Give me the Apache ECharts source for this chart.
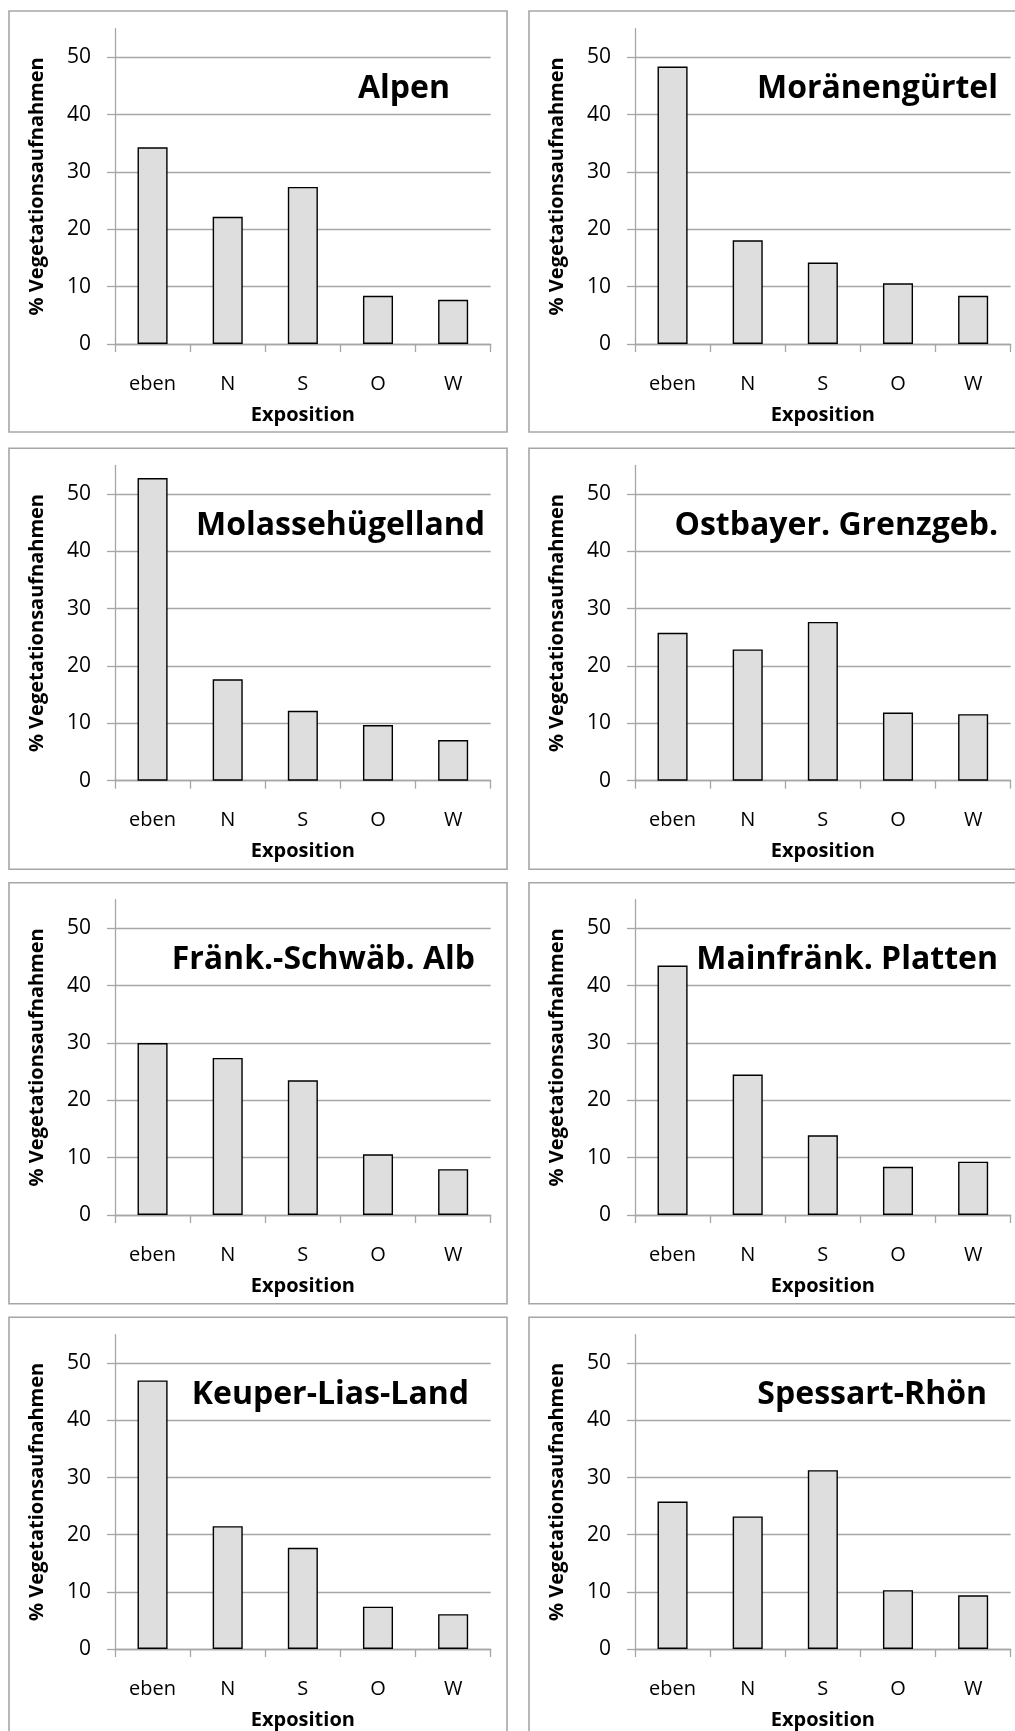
<!DOCTYPE html>
<html>
<head>
<meta charset="utf-8">
<script src="https://cdn.jsdelivr.net/npm/echarts@6/dist/echarts.min.js"></script>
<style>
html,body{margin:0;padding:0;background:#fff;}
#chart{width:1015px;height:1731px;}
</style>
</head>
<body>
<div id="chart"></div>
<script>
// ---- data ----
const categories = ['eben', 'N', 'S', 'O', 'W'];
const regionNames = ['Alpen', 'Moränengürtel', 'Molassehügelland', 'Ostbayer. Grenzgeb.',
  'Fränk.-Schwäb. Alb', 'Mainfränk. Platten', 'Keuper-Lias-Land', 'Spessart-Rhön'];
const alpen            = [34.3, 22.2, 27.4, 8.4, 7.7];
const moraenenguertel  = [48.4, 18.1, 14.2, 10.6, 8.4];
const molassehuegel    = [52.8, 17.7, 12.2, 9.7, 7.1];
const ostbayer         = [25.8, 22.9, 27.7, 11.9, 11.6];
const fraenkSchwaeb    = [30.0, 27.4, 23.5, 10.6, 8.0];
const mainfraenk       = [43.5, 24.5, 13.9, 8.4, 9.3];
const keuperLias       = [47.0, 21.5, 17.7, 7.4, 6.1];
const spessartRhoen    = [25.8, 23.2, 31.3, 10.3, 9.4];
const yTicks = [0, 10, 20, 30, 40, 50];
const yAxisTitle = '% Vegetationsaufnahmen';
const xAxisTitle = 'Exposition';

const seriesData = [alpen, moraenenguertel, molassehuegel, ostbayer,
  fraenkSchwaeb, mainfraenk, keuperLias, spessartRhoen];

// ---- layout ----
const FONT = '"Open Sans", "Noto Sans", sans-serif';
const GRAY = '#a6a6a6';
const colAxisX = [115, 635];
const plotW = 375.7;
const rowZero = [344, 780.7, 1215, 1650];
const pxPerUnit = 5.733;
const yMax = 55;
const plotH = yMax * pxPerUnit;
const panelX = [9, 529];
const panelTop = [11, 448.3, 882.7, 1317.3];
const panelW = 498, panelH = 421;
const titleRight = [450, 998, 485, 998, 475, 998, 469, 987];

const grids = [], xAxes = [], yAxes = [], series = [], titles = [], graphics = [];
for (let i = 0; i < 8; i++) {
  const col = i % 2, row = Math.floor(i / 2);
  grids.push({ left: colAxisX[col], top: rowZero[row] - plotH, width: plotW, height: plotH, containLabel: false });
  xAxes.push({
    type: 'category', gridIndex: i, data: categories, boundaryGap: true,
    axisLine: { show: true, lineStyle: { color: GRAY, width: 1.3 } },
    axisTick: { show: true, length: 8, alignWithLabel: false, interval: 0, lineStyle: { color: GRAY, width: 1.3 } },
    axisLabel: { fontFamily: FONT, fontSize: 20, color: '#000', margin: 30, interval: 0 },
    splitLine: { show: false },
    name: xAxisTitle, nameLocation: 'middle', nameGap: 61,
    nameTextStyle: { fontFamily: FONT, fontSize: 20, fontWeight: 'bold', color: '#000' }
  });
  yAxes.push({
    type: 'value', gridIndex: i, min: 0, max: yMax, interval: 10,
    axisLine: { show: true, lineStyle: { color: GRAY, width: 1.3 } },
    axisTick: { show: true, length: 8, customValues: yTicks, lineStyle: { color: GRAY, width: 1.3 } },
    axisLabel: { fontFamily: FONT, fontSize: 21, color: '#000', margin: 24, customValues: yTicks },
    splitLine: { show: true, lineStyle: { color: GRAY, width: 1.3 } },
    name: yAxisTitle, nameLocation: 'middle', nameGap: 68,
    nameTextStyle: { fontFamily: FONT, fontSize: 20, fontWeight: 'bold', color: '#000' }
  });
  series.push({
    type: 'bar', xAxisIndex: i, yAxisIndex: i, data: seriesData[i], barWidth: '40%',
    itemStyle: { color: '#dedede', borderColor: '#000', borderWidth: 1.4 },
    emphasis: { disabled: true }, animation: false
  });
  titles.push({
    text: regionNames[i], right: 1015 - titleRight[i], top: rowZero[row] - 271, padding: 0,
    textStyle: { fontFamily: FONT, fontSize: 32, fontWeight: 'bold', color: '#000' }
  });
  graphics.push({
    type: 'rect', silent: true, z: 0,
    shape: { x: panelX[col], y: panelTop[row], width: panelW, height: panelH },
    style: { fill: 'none', stroke: GRAY, lineWidth: 1.6 }
  });
}

const chart = echarts.init(document.getElementById('chart'), null, { renderer: 'canvas' });
chart.setOption({
  animation: false,
  backgroundColor: '#fff',
  title: titles,
  grid: grids,
  xAxis: xAxes,
  yAxis: yAxes,
  series: series,
  graphic: graphics
});
</script>
</body>
</html>
